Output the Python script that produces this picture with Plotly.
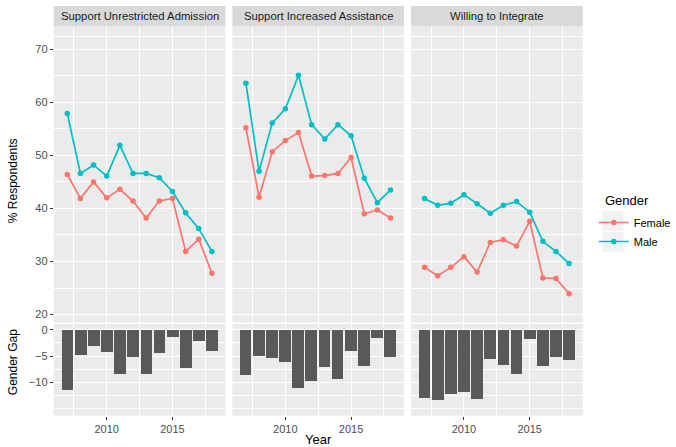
import plotly.graph_objects as go

# ---------------- data ----------------
years = list(range(2007, 2019))
topics = ["Support Unrestricted Admission", "Support Increased Assistance", "Willing to Integrate"]
genders = ["Female", "Male"]

female_unrestricted = [46.4, 41.9, 45.0, 42.0, 43.6, 41.4, 38.2, 41.4, 41.9, 31.9, 34.2, 27.8]
male_unrestricted = [57.9, 46.6, 48.2, 46.1, 51.9, 46.6, 46.6, 45.8, 43.2, 39.2, 36.2, 31.9]
gap_unrestricted = [-11.5, -4.8, -3.0, -4.2, -8.4, -5.1, -8.4, -4.5, -1.4, -7.3, -2.1, -4.0]

female_assistance = [55.2, 42.1, 50.7, 52.8, 54.3, 46.1, 46.2, 46.6, 49.6, 39.0, 39.7, 38.2]
male_assistance = [63.6, 47.0, 56.1, 58.8, 65.1, 55.8, 53.1, 55.8, 53.7, 45.7, 41.1, 43.5]
gap_assistance = [-8.6, -5.0, -5.4, -6.1, -11.0, -9.7, -7.0, -9.3, -4.1, -6.8, -1.5, -5.2]

female_integrate = [28.9, 27.3, 28.9, 30.9, 28.0, 33.6, 34.1, 32.9, 37.6, 26.9, 26.8, 23.9]
male_integrate = [41.9, 40.6, 41.0, 42.6, 40.9, 39.1, 40.6, 41.3, 39.3, 33.8, 31.9, 29.6]
gap_integrate = [-13.0, -13.4, -12.1, -11.8, -13.1, -5.5, -6.6, -8.4, -1.7, -6.9, -5.2, -5.7]

top_ticks = [20, 30, 40, 50, 60, 70]
gap_ticks = [0, -5, -10]
year_ticks = [2010, 2015]

# ---------------- styling ----------------
W, H = 676, 447
FONT = "Liberation Sans, Arial, sans-serif"
COL = {"Female": "#F8766D", "Male": "#00BFC4"}
BAR = "#595959"
PANEL_BG = "#EBEBEB"
STRIP_BG = "#D9D9D9"

panels_px = [(54.3, 227.8), (234.8, 408.3), (415.3, 588.8)]
top_px = (26.0, 322.5)
bot_px = (324.0, 415.7)
strip_px = (6.0, 26.0)


def xd(a, b):
    return [a / W, b / W]


def yd(t, b):
    return [1 - b / H, 1 - t / H]


series = [
    (female_unrestricted, male_unrestricted, gap_unrestricted),
    (female_assistance, male_assistance, gap_assistance),
    (female_integrate, male_integrate, gap_integrate),
]

fig = go.Figure()


def axname(n):
    return "" if n == 1 else str(n)


for i, (fem, mal, gap) in enumerate(series):
    kt = i + 1
    kb = i + 4
    for g, vals in zip(genders, (fem, mal)):
        fig.add_trace(go.Scatter(
            x=years, y=vals, mode="lines+markers", name=g,
            line=dict(color=COL[g], width=1.7),
            marker=dict(color=COL[g], size=5.5),
            xaxis="x" + axname(kt), yaxis="y" + axname(kt),
            legendgroup=g, showlegend=(i == 0), cliponaxis=False,
        ))
    fig.add_trace(go.Bar(
        x=years, y=gap, width=0.9, marker=dict(color=BAR, line=dict(width=0)),
        xaxis="x" + axname(kb), yaxis="y" + axname(kb), showlegend=False,
    ))

grid_major = dict(showgrid=True, gridcolor="white", gridwidth=1.2, zeroline=False, showline=False)
xrange = [2005.97, 2019.03]
xminor = dict(tickvals=[2007.5, 2012.5, 2017.5], showgrid=True, gridcolor="white", gridwidth=0.6, ticks="")
tickfont = dict(family=FONT, size=11, color="#4D4D4D")

layout = {}
for i, (a, b) in enumerate(panels_px):
    kt, kb = i + 1, i + 4
    layout["xaxis" + axname(kt)] = dict(
        domain=xd(a, b), range=xrange, anchor="y" + axname(kt), tickvals=year_ticks,
        showticklabels=False, ticks="", minor=xminor, **grid_major)
    layout["xaxis" + axname(kb)] = dict(
        domain=xd(a, b), range=xrange, anchor="y" + axname(kb), tickvals=year_ticks,
        showticklabels=True, ticks="outside", ticklen=3, tickwidth=1, tickcolor="#333333",
        tickfont=tickfont, minor=xminor, **grid_major)
    left = (i == 0)
    layout["yaxis" + axname(kt)] = dict(
        domain=yd(*top_px), range=[18.5, 74.4], anchor="x" + axname(kt), tickvals=top_ticks,
        showticklabels=left, ticks="outside" if left else "", ticklen=3, tickwidth=1,
        tickcolor="#333333", tickfont=tickfont,
        minor=dict(tickvals=[25, 35, 45, 55, 65, 72.5], showgrid=True, gridcolor="white",
                   gridwidth=0.6, ticks=""),
        **grid_major)
    layout["yaxis" + axname(kb)] = dict(
        domain=yd(*bot_px), range=[-16.3, 1.08], anchor="x" + axname(kb), tickvals=gap_ticks,
        showticklabels=left, ticks="outside" if left else "", ticklen=3, tickwidth=1,
        tickcolor="#333333", tickfont=tickfont,
        minor=dict(tickvals=[-2.5, -7.5, -12.5, -15], showgrid=True, gridcolor="white",
                   gridwidth=0.6, ticks=""),
        **grid_major)

shapes = []
annotations = []
for (a, b), t in zip(panels_px, topics):
    shapes.append(dict(type="rect", xref="paper", yref="paper", x0=a / W, x1=b / W,
                       y0=1 - strip_px[1] / H, y1=1 - strip_px[0] / H,
                       fillcolor=STRIP_BG, line=dict(width=0), layer="below"))
    annotations.append(dict(text=t, xref="paper", yref="paper", x=(a + b) / 2 / W,
                            y=1 - (strip_px[0] + strip_px[1]) / 2 / H, showarrow=False,
                            xanchor="center", yanchor="middle",
                            font=dict(family=FONT, size=11.3, color="#1A1A1A")))

# axis titles
annotations.append(dict(text="% Respondents", xref="paper", yref="paper", x=13.3 / W, y=1 - 181 / H,
                        textangle=-90, showarrow=False, xanchor="center", yanchor="middle",
                        font=dict(family=FONT, size=12, color="black")))
annotations.append(dict(text="Gender Gap", xref="paper", yref="paper", x=12.8 / W, y=1 - 362.5 / H,
                        textangle=-90, showarrow=False, xanchor="center", yanchor="middle",
                        font=dict(family=FONT, size=12, color="black")))
annotations.append(dict(text="Year", xref="paper", yref="paper", x=321.5 / W, y=1 - 439 / H,
                        showarrow=False, xanchor="center", yanchor="middle",
                        font=dict(family=FONT, size=13, color="black")))
# legend title
annotations.append(dict(text="Gender", xref="paper", yref="paper", x=609 / W, y=1 - 200 / H,
                        showarrow=False, xanchor="left", yanchor="middle",
                        font=dict(family=FONT, size=13, color="black")))
# legend key backgrounds
for yc in (221, 242):
    shapes.append(dict(type="rect", xref="paper", yref="paper", x0=609 / W, x1=630 / W,
                       y0=1 - (yc + 10) / H, y1=1 - (yc - 10) / H,
                       fillcolor="#F2F2F2", line=dict(width=0), layer="below"))

fig.update_layout(
    width=W, height=H, autosize=False,
    margin=dict(l=0, r=0, t=0, b=0),
    paper_bgcolor="white", plot_bgcolor=PANEL_BG,
    font=dict(family=FONT, size=11, color="black"),
    shapes=shapes, annotations=annotations,
    showlegend=True, bargap=0,
    legend=dict(x=600 / W, y=1 - 208 / H, xanchor="left", yanchor="top",
                bgcolor="rgba(0,0,0,0)", borderwidth=0, itemwidth=30,
                font=dict(family=FONT, size=11, color="black"), tracegroupgap=0),
    **layout,
)

fig.write_html(
    "out.html",
    config={"displayModeBar": False, "staticPlot": False},
    post_script="document.body.style.margin='0px';document.body.style.overflow='hidden';",
)
